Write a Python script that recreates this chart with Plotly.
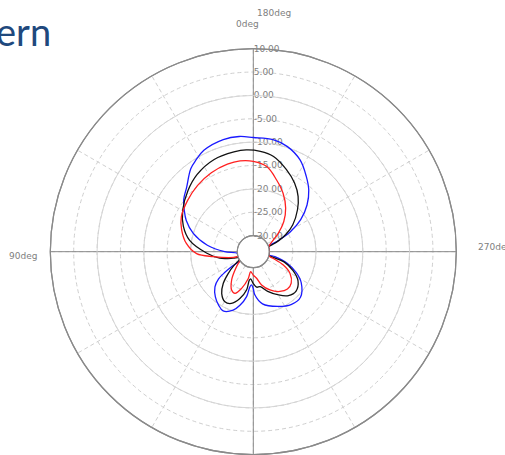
import plotly.graph_objects as go

# ---- data (angle in deg, gain in dB) ----
theta_blue = [0, 3, 5.5, 8.5, 14, 19, 27, 33, 40, 47.5, 52, 54, 55.5, 57, 70, 84, 90, 98, 107, 115,
              121, 127, 134, 143, 148, 154, 165, 173, 180, 190, 198, 207, 215, 222, 229, 236, 242,
              247, 250, 265, 281, 283, 289, 296, 303, 314, 324, 336, 350, 358, 360]
r_blue = [-25.5, -26.3, -25.9, -23.7, -21.6, -20.2, -19.2, -19.8, -20.8, -22.3, -24, -26, -28, -30,
          -30, -30, -27.3, -23.5, -20, -17.6, -16.2, -14.8, -13.6, -11.2, -10.3, -9.3, -8.6, -8.6,
          -9.0, -9.1, -9.8, -11.4, -13.7, -15.7, -18.2, -21.2, -24.5, -28.2, -30, -30, -30, -28.7,
          -25.7, -23.2, -21.2, -19.4, -19.5, -20.6, -22.1, -24.2, -25.5]

theta_black = [0, 5.6, 8, 10, 16, 23, 29.5, 37, 43.5, 49, 55, 60, 68, 72, 79, 88, 100, 110, 120.5,
               133, 144, 157, 169, 176, 184, 192, 202, 211, 219, 226.5, 235.7, 242, 246.5, 250,
               252, 270, 284, 285.3, 288.4, 295.6, 303.2, 312.6, 321.3, 329.7, 340, 348.7, 354.6, 360]
r_black = [-26.6, -27.6, -27.3, -25.1, -23, -21.4, -21.1, -22.2, -24.1, -26.3, -28.5, -30, -30,
           -28.9, -26.1, -23.5, -19.6, -17.5, -15.9, -14.3, -13.0, -12.0, -11.7, -11.6, -11.9,
           -12.6, -14.5, -16.3, -18.2, -20.4, -23.2, -25.5, -27.5, -29.2, -30, -30, -30, -29.4,
           -26.5, -24.0, -22.0, -21.0, -21.4, -22.7, -24.4, -25.8, -25.8, -26.6]

theta_red = [0, 7.6, 10.6, 17.7, 23.7, 29.5, 37.4, 45, 52, 56, 72, 74, 83, 88, 97, 107, 116, 128,
             140, 152, 163.5, 171.7, 180, 189, 198, 207, 216.5, 225.5, 233.6, 239.7, 248, 253,
             270, 285, 288.4, 294, 300.6, 309.6, 317.6, 326.3, 336.5, 346, 353, 360]
r_red = [-28.4, -29.1, -27.6, -25.2, -23.7, -24, -25.8, -27.9, -29.3, -30, -30, -29, -24.8, -21.3,
         -19, -17.4, -16.3, -15.6, -14.9, -14.3, -13.9, -13.8, -14.1, -15, -17.3, -19.4, -21.8,
         -24.3, -26.8, -28.5, -29.7, -30, -30, -30, -29, -26.4, -24.3, -22.9, -22.6, -23.2,
         -24.5, -26.1, -27.7, -28.4]

radial_ticks = [-30, -25, -20, -15, -10, -5, 0, 5, 10]
radial_major = [-30, -20, -10, 0, 10]
angle_labels = ["180deg", "0deg", "90deg", "270deg"]
title_text = "ern"

series = [
    (theta_blue, r_blue, "#1a1aff"),
    (theta_black, r_black, "#111111"),
    (theta_red, r_red, "#ff2020"),
]

fig = go.Figure()
# empty trace so the background (dashed-grid) subplot is rendered
fig.add_trace(go.Scatterpolar(theta=[], r=[], mode="lines", subplot="polar",
                              showlegend=False, hoverinfo="skip"))
for th, rr, col in series:
    fig.add_trace(go.Scatterpolar(theta=th, r=rr, mode="lines", subplot="polar2",
                                  line=dict(color=col, width=1.3, shape="spline", smoothing=1),
                                  showlegend=False, hoverinfo="skip"))

dom = dict(x=[0.0996, 0.9036], y=[0.0007, 0.893])
hole = 0.079
fig.update_layout(
    width=505, height=455,
    margin=dict(l=0, r=0, t=0, b=0),
    paper_bgcolor="white",
    polar=dict(
        domain=dom, hole=hole, bgcolor="white",
        radialaxis=dict(range=[-30, 10], tickvals=radial_ticks,
                        ticktext=[f"{v:.2f}" for v in radial_ticks],
                        angle=90, tickangle=90, side="clockwise",
                        showline=False, ticks="", gridcolor="#cfcfcf", griddash="4px,3px",
                        gridwidth=1, tickfont=dict(family="DejaVu Sans", size=9, color="#808080")),
        angularaxis=dict(rotation=-90, direction="clockwise", dtick=30, showticklabels=False,
                         ticks="", gridcolor="#cfcfcf", griddash="4px,3px", gridwidth=1,
                         showline=True, linecolor="#8a8a8a", linewidth=1.2),
    ),
    polar2=dict(
        domain=dom, hole=hole, bgcolor="rgba(0,0,0,0)",
        radialaxis=dict(range=[-30, 10], tickvals=radial_major, showticklabels=False,
                        angle=90, showline=False, ticks="", gridcolor="#d6d6d6", gridwidth=1.2),
        angularaxis=dict(rotation=-90, direction="clockwise", tickvals=[0, 90, 180, 270],
                         showticklabels=False, ticks="", gridcolor="#8a8a8a", gridwidth=1.3,
                         showline=True, linecolor="#8a8a8a", linewidth=1.2),
    ),
)

lab_font = dict(family="DejaVu Sans", size=9, color="#808080")
pos = [(255, 13, "left"), (234, 24, "left"), (7, 256, "left"), (476, 247, "left")]
for (px, py, anc), txt in zip(pos, angle_labels):
    fig.add_annotation(x=px / 505, y=1 - py / 455, xref="paper", yref="paper", text=txt,
                       showarrow=False, xanchor=anc, yanchor="middle", font=lab_font)

fig.add_annotation(x=-6 / 505, y=1 - 31 / 455, xref="paper", yref="paper", text=title_text,
                   showarrow=False, xanchor="left", yanchor="middle",
                   font=dict(family="Lato", size=38, color="#1F497D"))

fig.write_html("out.html", config={"displayModeBar": False},
               post_script="document.body.style.margin='0px';")
